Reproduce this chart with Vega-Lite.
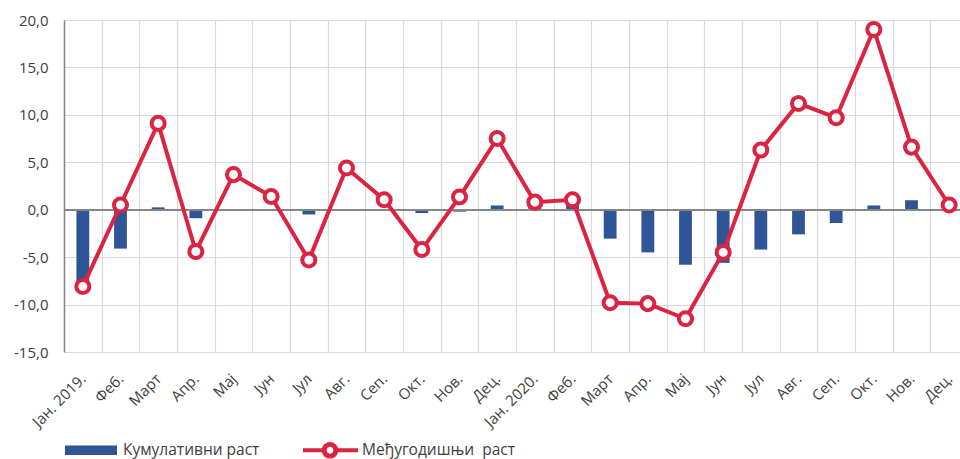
{
  "$schema": "https://vega.github.io/schema/vega-lite/v6.json",
  "width": 896,
  "height": 332,
  "autosize": {"type": "none"},
  "padding": {"left": 64, "top": 20, "right": 0, "bottom": 107},
  "background": "white",
  "config": {
    "font": "Open Sans",
    "view": {"stroke": null},
    "axis": {"labelColor": "#404040", "gridColor": "#d9d9d9", "gridWidth": 1.2}
  },
  "data": {
    "values": [
      {"mes": "Јан. 2019.", "kum": -8.1, "yoy": -8.1},
      {"mes": "Феб.", "kum": -4.1, "yoy": 0.5},
      {"mes": "Март", "kum": 0.25, "yoy": 9.1},
      {"mes": "Апр.", "kum": -0.9, "yoy": -4.4},
      {"mes": "Мај", "kum": -0.1, "yoy": 3.7},
      {"mes": "Јун", "kum": 0.0, "yoy": 1.4},
      {"mes": "Јул", "kum": -0.5, "yoy": -5.3},
      {"mes": "Авг.", "kum": 0.0, "yoy": 4.4},
      {"mes": "Сеп.", "kum": 0.0, "yoy": 1.05},
      {"mes": "Окт.", "kum": -0.35, "yoy": -4.2},
      {"mes": "Нов.", "kum": -0.2, "yoy": 1.35},
      {"mes": "Дец.", "kum": 0.45, "yoy": 7.5},
      {"mes": "Јан. 2020.", "kum": 0.8, "yoy": 0.8},
      {"mes": "Феб. ", "kum": 0.95, "yoy": 1.05},
      {"mes": "Март ", "kum": -3.05, "yoy": -9.8},
      {"mes": "Апр. ", "kum": -4.5, "yoy": -9.9},
      {"mes": "Мај ", "kum": -5.8, "yoy": -11.5},
      {"mes": "Јун ", "kum": -5.6, "yoy": -4.5},
      {"mes": "Јул ", "kum": -4.2, "yoy": 6.3},
      {"mes": "Авг. ", "kum": -2.6, "yoy": 11.2},
      {"mes": "Сеп. ", "kum": -1.4, "yoy": 9.7},
      {"mes": "Окт. ", "kum": 0.45, "yoy": 19.0},
      {"mes": "Нов. ", "kum": 1.0, "yoy": 6.6},
      {"mes": "Дец. ", "kum": 0.6, "yoy": 0.5}
    ]
  },
  "encoding": {
    "x": {
      "field": "mes",
      "type": "nominal",
      "sort": null,
      "scale": {"range": [0, 904], "paddingInner": 0, "paddingOuter": 0},
      "axis": {
        "title": null,
        "labelAngle": -45,
        "labelAlign": "right",
        "labelBaseline": "middle",
        "labelFontSize": 15,
        "labelPadding": 24,
        "tickBand": "extent",
        "grid": true,
        "domain": false,
        "ticks": false
      }
    }
  },
  "layer": [
    {
      "mark": {"type": "bar", "width": {"band": 0.34}},
      "encoding": {
        "y": {
          "field": "kum",
          "type": "quantitative",
          "scale": {"domain": [-15, 20], "nice": false, "zero": false},
          "axis": {
            "title": null,
            "values": [-15, -10, -5, 0, 5, 10, 15, 20],
            "labelExpr": "replace(replace(format(datum.value, '.1f'), '.', ','), '\u2212', '-')",
            "labelFontSize": 15,
            "labelPadding": 16,
            "grid": true,
            "domain": true,
            "domainColor": "#868686",
            "domainWidth": 1.5,
            "ticks": false
          }
        },
        "color": {
          "datum": "Кумулативни раст",
          "type": "nominal",
          "scale": {
            "domain": ["Кумулативни раст", "Међугодишњи\u00a0 раст"],
            "range": ["#2F5597", "#DB2342"]
          },
          "legend": {
            "title": null,
            "orient": "none",
            "legendX": 1,
            "legendY": 404,
            "direction": "horizontal",
            "labelFontSize": 15.5,
            "labelColor": "#404040",
            "labelOffset": 6,
            "columnPadding": 42,
            "symbolSize": 2704,
            "symbolStrokeWidth": 0,
            "encode": {
              "symbols": {
                "update": {
                  "shape": {"signal": "datum.value === 'Кумулативни раст' ? 'M-1,-0.18H1V0.18H-1Z' : 'M-1.04,-0.077H-0.25V0.077H-1.04Z M0.25,-0.077H1.08V0.077H0.25Z M-0.32,0A0.32,0.32 0 1,1 0.32,0A0.32,0.32 0 1,1 -0.32,0Z M-0.13,0A0.13,0.13 0 1,0 0.13,0A0.13,0.13 0 1,0 -0.13,0Z'"},
                  "fill": {"signal": "datum.value === 'Кумулативни раст' ? '#2F5597' : '#DB2342'"},
                  "stroke": {"value": "transparent"},
                  "opacity": {"value": 1},
                  "fillOpacity": {"value": 1}
                }
              }
            }
          }
        }
      }
    },
    {
      "mark": {"type": "rule", "color": "#868686", "strokeWidth": 1.5},
      "encoding": {"y": {"datum": 0}, "x": {"value": 0}, "x2": {"value": 904}}
    },
    {
      "mark": {"type": "line", "strokeWidth": 4},
      "encoding": {
        "y": {"field": "yoy", "type": "quantitative"},
        "color": {"datum": "Међугодишњи\u00a0 раст", "type": "nominal"}
      }
    },
    {
      "mark": {"type": "point", "shape": "circle", "filled": true, "fill": "white", "stroke": "#DB2342", "strokeWidth": 4, "size": 170, "opacity": 1},
      "encoding": {
        "y": {"field": "yoy", "type": "quantitative"}
      }
    }
  ]
}
